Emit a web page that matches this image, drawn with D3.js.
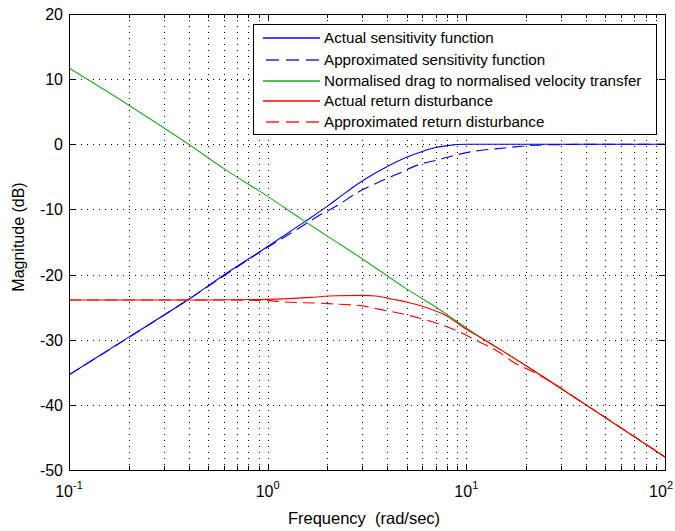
<!DOCTYPE html>
<html><head><meta charset="utf-8">
<script src="https://cdn.jsdelivr.net/npm/d3@7"></script>
<style>
html,body{margin:0;padding:0;background:#fff;}
svg{display:block;font-family:"Liberation Sans",Arial,Helvetica,sans-serif;}
</style></head>
<body>
<svg id="chart" width="675" height="531"></svg>
<script>
// ---- data ----
const sensActualFreq = [0.1,0.2,0.4,0.6,1.0,1.5,2.0,2.5,3.0,4.0,5.0,6.0,7.0,8.0,10,20,50,100];
const sensActualMag  = [-35.4,-29.6,-23.8,-20.1,-15.7,-12.1,-9.5,-7.3,-5.6,-3.4,-2.0,-1.1,-0.5,-0.2,0,0,0,0];

const sensApproxFreq = [0.1,0.4,1.0,1.4,1.8,2.27,2.83,3.57,4.63,5.67,7.16,9.0,11,14,17.5,22,30,50,100];
const sensApproxMag  = [-35.4,-23.8,-15.8,-13.1,-11.0,-9.3,-7.4,-5.9,-4.4,-3.2,-2.4,-1.6,-1.05,-0.7,-0.4,-0.15,-0.05,0,0];

const dragFreq = [0.1,0.2,0.4,0.6,1.0,1.5,2.0,3.0,5.0,7.36,10,20,40,100];
const dragMag  = [11.7,6.0,0.0,-3.7,-8.0,-11.6,-14.1,-17.6,-22.2,-25.4,-28.2,-34.0,-40.0,-48.0];

const retActualFreq = [0.1,0.5,1.0,1.63,2.2,3.0,3.5,4.27,5.0,6.07,7.8,10,12,15,20,40,100];
const retActualMag  = [-23.9,-23.9,-23.8,-23.5,-23.25,-23.2,-23.3,-23.8,-24.2,-24.9,-26.2,-28.4,-29.8,-31.6,-34.0,-40.0,-48.0];

const retApproxFreq = [0.1,0.5,1.0,1.21,1.83,2.27,2.99,3.61,4.49,5.66,7.14,8.93,11.3,14.4,17.6,21.9,40,100];
const retApproxMag  = [-23.9,-23.9,-24.0,-24.2,-24.4,-24.55,-24.8,-25.3,-25.85,-26.6,-27.5,-28.6,-30.15,-31.8,-33.6,-35.0,-40.0,-48.0];

const seriesNames = ["Actual sensitivity function","Approximated sensitivity function",
  "Normalised drag to normalised velocity transfer","Actual return disturbance","Approximated return disturbance"];
const seriesColors = ["#0000ff","#0000ff","#22aa22","#ff0000","#ff0000"];
const seriesDashed = [false,true,false,false,true];

const yTicks = [20,10,0,-10,-20,-30,-40,-50];
const xDecades = [0.1,1,10,100];
const xDecadeExp = ["-1","0","1","2"];
const xLabel = "Frequency\u00a0\u00a0(rad/sec)";
const yLabel = "Magnitude (dB)";

// ---- layout ----
const svg = d3.select("#chart");
const L = 69, T = 14, W = 596, H = 456;
const x = d3.scaleLog().domain([0.1,100]).range([L, L+W]);
const y = d3.scaleLinear().domain([-50,20]).range([T+H, T]);

const minorTicks = [];
for (let d of [0.1,1,10]) for (let k=1;k<=9;k++) minorTicks.push(d*k);
minorTicks.push(100);

// grid
const grid = svg.append("g").attr("stroke","#000").attr("stroke-width",1)
  .attr("stroke-dasharray","1,5").attr("fill","none");
minorTicks.filter(v=>v>0.1+1e-9 && v<100-1e-9).forEach(v=>{
  const xx = Math.round(x(v))+0.5;
  grid.append("line").attr("x1",xx).attr("x2",xx).attr("y1",T).attr("y2",T+H);
});
yTicks.filter(v=>v>-50 && v<20).forEach(v=>{
  const yy = Math.round(y(v))+0.5;
  grid.append("line").attr("x1",L).attr("x2",L+W).attr("y1",yy).attr("y2",yy);
});

// curves
const all = [
  [sensActualFreq, sensActualMag],
  [sensApproxFreq, sensApproxMag],
  [dragFreq, dragMag],
  [retActualFreq, retActualMag],
  [retApproxFreq, retApproxMag]
];
const line = d3.line().x(d=>x(d[0])).y(d=>y(d[1])).curve(d3.curveMonotoneX);
all.forEach((s,i)=>{
  const pts = s[0].map((f,j)=>[f,s[1][j]]);
  const p = svg.append("path").datum(pts).attr("d",line)
    .style("fill","none").style("stroke",seriesColors[i]).style("stroke-width","1.1px");
  if (seriesDashed[i]) p.style("stroke-dasharray","12,6");
});

// axes box + ticks (inward)
const ax = svg.append("g").attr("stroke","#000").attr("stroke-width",1).attr("fill","none");
ax.append("rect").attr("x",L+0.5).attr("y",T+0.5).attr("width",W).attr("height",H);
minorTicks.forEach(v=>{
  const xx = Math.round(x(v))+0.5;
  const isMajor = xDecades.some(d=>Math.abs(d-v)<1e-9);
  const len = isMajor ? 6 : 4;
  ax.append("line").attr("x1",xx).attr("x2",xx).attr("y1",T+H).attr("y2",T+H-len);
  ax.append("line").attr("x1",xx).attr("x2",xx).attr("y1",T).attr("y2",T+len);
});
yTicks.forEach(v=>{
  const yy = Math.round(y(v))+0.5;
  ax.append("line").attr("x1",L).attr("x2",L+6).attr("y1",yy).attr("y2",yy);
  ax.append("line").attr("x1",L+W).attr("x2",L+W-6).attr("y1",yy).attr("y2",yy);
});

// tick labels
const tl = svg.append("g").attr("fill","#000").attr("font-size",16);
yTicks.forEach(v=>{
  tl.append("text").attr("x",L-6).attr("y",y(v)+6).attr("text-anchor","end").text(v);
});
xDecades.forEach((v,i)=>{
  const last = i === xDecades.length-1;
  const t = tl.append("text")
    .attr("x", last ? 673 : x(v))
    .attr("y",T+H+27)
    .attr("text-anchor", last ? "end" : "middle");
  t.append("tspan").text("10");
  t.append("tspan").attr("font-size",11).attr("dy",-8).text(xDecadeExp[i]);
});

// axis labels
svg.append("text").attr("x",364).attr("y",524).attr("text-anchor","middle")
  .attr("font-size",16.5).text(xLabel);
svg.append("text").attr("transform","translate(24,237) rotate(-90)")
  .attr("text-anchor","middle").attr("font-size",16).text(yLabel);

// legend
const lg = svg.append("g");
lg.append("rect").attr("x",253.5).attr("y",24.5).attr("width",403).attr("height",110)
  .style("fill","#fff").style("stroke","#000").style("stroke-width","1px");
const rowY = [38,59.5,80.5,101,121.5];
const legendLine = d3.line();
seriesNames.forEach((n,i)=>{
  const y0 = Math.round(rowY[i]);
  if (seriesDashed[i]) {
    [[266,279],[286,299],[306,319]].forEach(seg=>{
      lg.append("path").attr("d",legendLine([[seg[0],y0],[seg[1],y0]]))
        .style("fill","none").style("stroke",seriesColors[i]).style("stroke-width","1.3px");
    });
  } else {
    lg.append("path").attr("d",legendLine([[263,y0],[320,y0]]))
      .style("fill","none").style("stroke",seriesColors[i]).style("stroke-width","1.3px");
  }
  lg.append("text").attr("x",324).attr("y",rowY[i]+5).attr("font-size",15.2).text(n);
});
</script>
</body></html>
